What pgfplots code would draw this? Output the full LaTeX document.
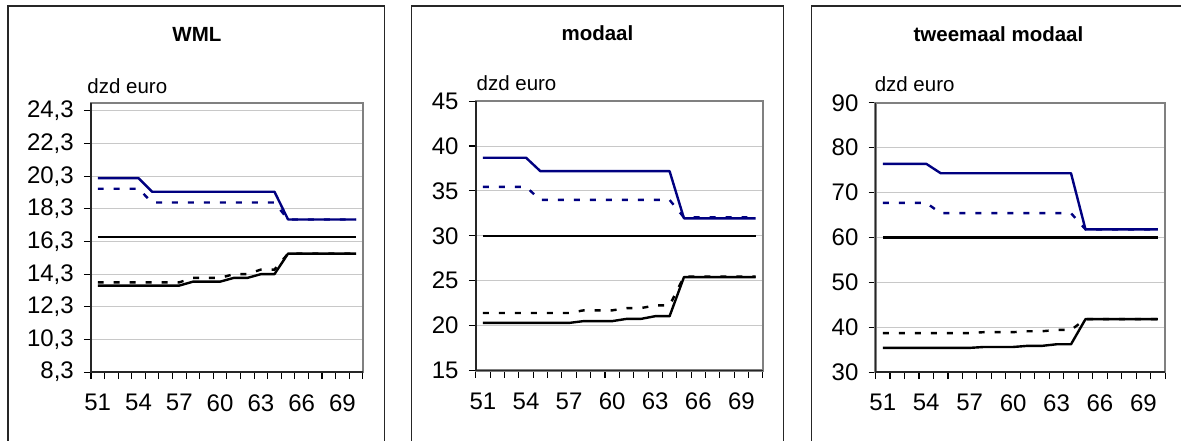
\documentclass[border=0pt]{standalone}
\usepackage{pgfplots}
\pgfplotsset{compat=1.18}
\usepackage{pgfplotstable}
\usepackage{fontspec}
\setmainfont{Liberation Sans}

\definecolor{navy}{RGB}{0,0,128}
\definecolor{plotframe}{RGB}{128,128,128}
\definecolor{gridgray}{RGB}{200,200,200}

\newcommand{\chartfont}{\fontsize{20.5}{24}\selectfont}
\newcommand{\tickfont}{\fontsize{24}{28}\selectfont}

% year, blue solid, blue dashed, black flat, black solid, black dashed
\pgfplotstableread{
year bs    bd    fl    ks    kd
51   20.18 19.53 16.56 13.60 13.80
52   20.18 19.53 16.56 13.60 13.80
53   20.18 19.53 16.56 13.60 13.80
54   20.18 19.53 16.56 13.60 13.80
55   19.35 18.69 16.56 13.60 13.80
56   19.35 18.69 16.56 13.60 13.80
57   19.35 18.69 16.56 13.60 13.80
58   19.35 18.69 16.56 13.84 14.07
59   19.35 18.69 16.56 13.84 14.07
60   19.35 18.69 16.56 13.84 14.07
61   19.35 18.69 16.56 14.07 14.30
62   19.35 18.69 16.56 14.07 14.30
63   19.35 18.69 16.56 14.30 14.58
64   19.35 18.69 16.56 14.30 14.58
65   17.65 17.65 16.56 15.56 15.56
66   17.65 17.65 16.56 15.56 15.56
67   17.65 17.65 16.56 15.56 15.56
68   17.65 17.65 16.56 15.56 15.56
69   17.65 17.65 16.56 15.56 15.56
70   17.65 17.65 16.56 15.56 15.56
}\wml

\pgfplotstableread{
year bs    bd    fl    ks    kd
51   38.70 35.45 30.00 20.30 21.40
52   38.70 35.45 30.00 20.30 21.40
53   38.70 35.45 30.00 20.30 21.40
54   38.70 35.45 30.00 20.30 21.40
55   37.20 34.00 30.00 20.30 21.40
56   37.20 34.00 30.00 20.30 21.40
57   37.20 34.00 30.00 20.30 21.40
58   37.20 34.00 30.00 20.50 21.70
59   37.20 34.00 30.00 20.50 21.70
60   37.20 34.00 30.00 20.50 21.70
61   37.20 34.00 30.00 20.75 21.95
62   37.20 34.00 30.00 20.75 21.95
63   37.20 34.00 30.00 21.05 22.25
64   37.20 34.00 30.00 21.05 22.25
65   31.95 32.05 30.00 25.40 25.45
66   31.95 32.05 30.00 25.40 25.45
67   31.95 32.05 30.00 25.40 25.45
68   31.95 32.05 30.00 25.40 25.45
69   31.95 32.05 30.00 25.40 25.45
70   31.95 32.05 30.00 25.40 25.45
}\modaal

\pgfplotstableread{
year bs    bd    fl    ks    kd
51   76.40 67.70 60.00 35.40 38.70
52   76.40 67.70 60.00 35.40 38.70
53   76.40 67.70 60.00 35.40 38.70
54   76.40 67.70 60.00 35.40 38.70
55   74.30 65.40 60.00 35.40 38.70
56   74.30 65.40 60.00 35.40 38.70
57   74.30 65.40 60.00 35.40 38.70
58   74.30 65.40 60.00 35.60 38.90
59   74.30 65.40 60.00 35.60 38.90
60   74.30 65.40 60.00 35.60 38.90
61   74.30 65.40 60.00 35.85 39.10
62   74.30 65.40 60.00 35.85 39.10
63   74.30 65.40 60.00 36.20 39.40
64   74.30 65.40 60.00 36.20 39.40
65   61.80 61.80 60.00 41.80 41.80
66   61.80 61.80 60.00 41.80 41.80
67   61.80 61.80 60.00 41.80 41.80
68   61.80 61.80 60.00 41.80 41.80
69   61.80 61.80 60.00 41.80 41.80
70   61.80 61.80 60.00 41.80 41.80
}\tweemaal

\pgfplotsset{
  panel/.style={
    scale only axis, anchor=south west,
    height=269.5pt,
    xmin=50.5, xmax=70.5,
    xtick={50.5,51.5,52.5,53.5,54.5,55.5,56.5,57.5,58.5,59.5,60.5,61.5,62.5,63.5,64.5,65.5,66.5,67.5,68.5,69.5,70.5},
    xticklabels={},
    extra x ticks={51,54,57,60,63,66,69},
    extra x tick labels={51,54,57,60,63,66,69},
    extra x tick style={major tick length=0pt, grid=none,
      xticklabel style={yshift=-20pt}},
    tick pos=left,
    tick align=outside,
    major tick length=7pt,
    tick style={black, line width=1.1pt},
    ymajorgrids,
    major grid style={draw=gridgray, line width=1pt},
    axis line style={draw=plotframe, line width=2.4pt},
    every tick label/.append style={font=\tickfont, text=black, inner sep=2pt},
    yticklabel style={xshift=-8pt},
    clip=false,
    after end axis/.code={
      \draw[black!85, line width=1.6pt] (rel axis cs:0,1) -- (rel axis cs:0,0) -- (rel axis cs:1,0);
    },
  },
  bsolid/.style={navy, line width=2.4pt, line join=round},
  bdash/.style={navy, line width=2.4pt, dash pattern=on 6pt off 10pt},
  kflat/.style={black, line width=2.4pt},
  ksolid/.style={black, line width=2.4pt, line join=round},
  kdash/.style={black, line width=2.4pt, dash pattern=on 6pt off 10pt},
}

\begin{document}
\begin{tikzpicture}[x=1pt, y=1pt]
% page size
\path (0pt,0pt) rectangle (1182pt,441pt);

% outer chart frames, cut off at the bottom (and right) edge
\draw[black!85, line width=1.2pt] (8pt,0pt) -- (8pt,435pt) -- (385pt,435pt) -- (385pt,0pt);
\draw[black!85, line width=1.2pt] (411.7pt,0pt) -- (411.7pt,435pt) -- (784pt,435pt) -- (784pt,0pt);
\draw[black!85, line width=1.2pt] (811.7pt,0pt) -- (811.7pt,435pt) -- (1182pt,435pt);

% WML
\begin{axis}[panel, at={(91pt,68.7pt)}, width=272pt,
  ymin=8.3, ymax=24.8,
  ytick={8.3,10.3,12.3,14.3,16.3,18.3,20.3,22.3,24.3},
  yticklabels={{8,3},{10,3},{12,3},{14,3},{16,3},{18,3},{20,3},{22,3},{24,3}}]
\addplot[ksolid] table[x=year, y=ks] {\wml};
\addplot[kdash] table[x=year, y=kd] {\wml};
\addplot[kflat] table[x=year, y=fl] {\wml};
\addplot[bsolid] table[x=year, y=bs] {\wml};
\addplot[bdash] table[x=year, y=bd] {\wml};
\end{axis}
\node[anchor=base, font=\chartfont\bfseries] at (197pt,399.3pt) {WML};
\node[anchor=base west, font=\chartfont, inner sep=0pt] at (87.3pt,347pt) {dzd euro};

% modaal
\begin{axis}[panel, at={(476pt,70.3pt)}, width=287.3pt,
  ymin=15, ymax=45,
  ytick={15,20,25,30,35,40,45},
  yticklabels={15,20,25,30,35,40,45}]
\addplot[ksolid] table[x=year, y=ks] {\modaal};
\addplot[kdash] table[x=year, y=kd] {\modaal};
\addplot[kflat] table[x=year, y=fl] {\modaal};
\addplot[bsolid] table[x=year, y=bs] {\modaal};
\addplot[bdash] table[x=year, y=bd] {\modaal};
\end{axis}
\node[anchor=base, font=\chartfont\bfseries] at (597.7pt,400.3pt) {modaal};
\node[anchor=base west, font=\chartfont, inner sep=0pt] at (476.7pt,350.3pt) {dzd euro};

% tweemaal modaal
\begin{axis}[panel, at={(876pt,68.7pt)}, width=289.7pt,
  ymin=30, ymax=90,
  ytick={30,40,50,60,70,80,90},
  yticklabels={30,40,50,60,70,80,90}]
\addplot[ksolid] table[x=year, y=ks] {\tweemaal};
\addplot[kdash] table[x=year, y=kd] {\tweemaal};
\addplot[kflat] table[x=year, y=fl] {\tweemaal};
\addplot[bsolid] table[x=year, y=bs] {\tweemaal};
\addplot[bdash] table[x=year, y=bd] {\tweemaal};
\end{axis}
\node[anchor=base, font=\chartfont\bfseries] at (999pt,399.3pt) {tweemaal modaal};
\node[anchor=base west, font=\chartfont, inner sep=0pt] at (875pt,349pt) {dzd euro};
\end{tikzpicture}
\end{document}
